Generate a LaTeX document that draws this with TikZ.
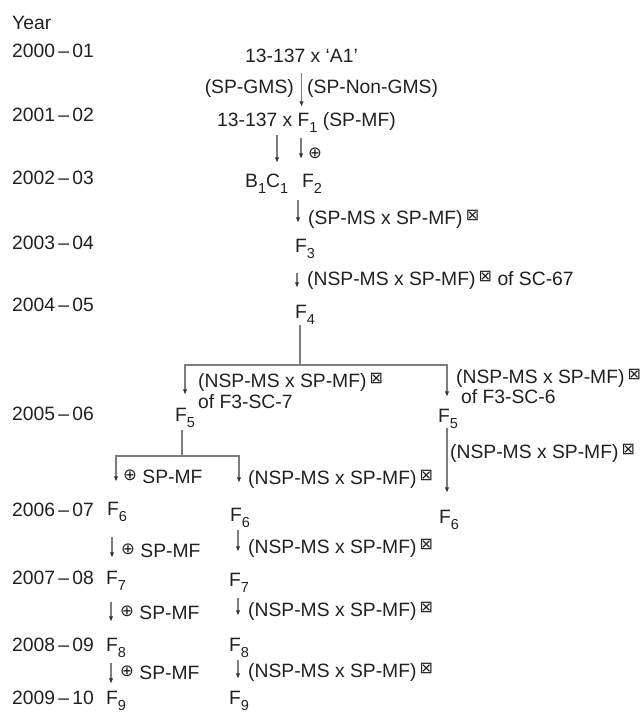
\documentclass[tikz,border=0pt]{standalone}
\usepackage{fontspec}
\setmainfont{Liberation Sans}
\newfontfamily\symbolfont{DejaVu Sans}
\usetikzlibrary{arrows.meta, positioning}
\definecolor{inkgray}{RGB}{35,31,32}
\definecolor{linegray}{RGB}{125,125,125}

\newcommand{\gsub}[1]{\raisebox{-6pt}{\fontsize{14.5}{14.5}\selectfont #1}}
\newcommand{\Fg}[1]{F\gsub{#1}}
\newcommand{\selfed}{\raisebox{3pt}{\symbolfont\fontsize{16.5}{16.5}\selectfont ⊕}}
\newcommand{\crossed}{\raisebox{4pt}{\symbolfont\fontsize{16}{16}\selectfont ⊠}}

\begin{document}
\begin{tikzpicture}[x=1pt, y=-1pt,
    every node/.style={font=\fontsize{19.3}{23}\selectfont, text=inkgray, inner sep=0pt},
    yearlbl/.style={anchor=base west},
    note/.style={anchor=base west},
    stage/.style={anchor=base west, text height=13pt, text depth=6pt},
    link/.style={draw=linegray, line width=1.1pt},
    arrow/.style={link, -{Latex[length=5.5pt, width=4.5pt, color=black!80]}}
]
\useasboundingbox (0,0) rectangle (644,713);

% Years
\node[yearlbl] (yr) at (12,29) {Year};
\node[yearlbl] (y00) at (12,57) {2000\,--\,01};
\node[yearlbl] (y01) at (12,121) {2001\,--\,02};
\node[yearlbl] (y02) at (12,184) {2002\,--\,03};
\node[yearlbl] (y03) at (12,249) {2003\,--\,04};
\node[yearlbl] (y04) at (12,311) {2004\,--\,05};
\node[yearlbl] (y05) at (12,420) {2005\,--\,06};
\node[yearlbl] (y06) at (12,516) {2006\,--\,07};
\node[yearlbl] (y07) at (12,584) {2007\,--\,08};
\node[yearlbl] (y08) at (12,651) {2008\,--\,09};
\node[yearlbl] (y09) at (12,704) {2009\,--\,10};

% First cross
\node[stage] (a1) at (245,62) {13-137 x ‘A1’};
\node[note, anchor=base east] (gms) at (294,93) {(SP-GMS)};
\node[note] (nongms) at (307,93) {(SP-Non-GMS)};
\node[stage] (cross1) at (217,126) {13-137 x \Fg{1} (SP-MF)};
\node (self2) at (315,153) {\symbolfont\fontsize{16.5}{16.5}\selectfont ⊕};

% F2 to F4
\node[stage] (bc1) at (245,187) {B\gsub{1}C\gsub{1}};
\node[stage] (f2) at (302,187) {\Fg{2}};
\node[note] (lbl23) at (308,224) {(SP-MS x SP-MF)\,\crossed};
\node[stage] (f3) at (295,252) {\Fg{3}};
\node[note] (lbl34) at (307,285) {(NSP-MS x SP-MF)\,\crossed\ of SC-67};
\node[stage] (f4) at (295,318) {\Fg{4}};
\coordinate (fork4) at (300,365);

% F5 lines
\node[note] (lbl45a) at (198,387) {(NSP-MS x SP-MF)\,\crossed};
\node[note] (lbl45b) at (198,408) {of F3-SC-7};
\node[note] (lbl45c) at (456,383) {(NSP-MS x SP-MF)\,\crossed};
\node[note] (lbl45d) at (461,403) {of F3-SC-6};
\node[stage] (f5l) at (175,421) {\Fg{5}};
\node[stage] (f5r) at (438,422) {\Fg{5}};
\coordinate (fork5) at (182,456);

% F6 to F9
\node[note] (lbl56a) at (123,483) {\selfed\ SP-MF};
\node[note] (lbl56b) at (248,484) {(NSP-MS x SP-MF)\,\crossed};
\node[note] (lbl56c) at (450,458) {(NSP-MS x SP-MF)\,\crossed};
\node[stage] (f6a) at (107,515) {\Fg{6}};
\node[stage] (f6b) at (230,521) {\Fg{6}};
\node[stage] (f6c) at (439,523) {\Fg{6}};
\node[note] (lbl67a) at (121,557) {\selfed\ SP-MF};
\node[note] (lbl67b) at (248,553) {(NSP-MS x SP-MF)\,\crossed};
\node[stage] (f7a) at (106,584) {\Fg{7}};
\node[stage] (f7b) at (229,586) {\Fg{7}};
\node[note] (lbl78a) at (120,619) {\selfed\ SP-MF};
\node[note] (lbl78b) at (248,616) {(NSP-MS x SP-MF)\,\crossed};
\node[stage] (f8a) at (106,651) {\Fg{8}};
\node[stage] (f8b) at (229,651) {\Fg{8}};
\node[note] (lbl89a) at (120,679) {\selfed\ SP-MF};
\node[note] (lbl89b) at (248,677) {(NSP-MS x SP-MF)\,\crossed};
\node[stage] (f9a) at (106,704) {\Fg{9}};
\node[stage] (f9b) at (229,704) {\Fg{9}};

% Arrows
\draw[arrow, shorten <=5pt, shorten >=6pt] (a1.south) -- (a1.south |- cross1.north);
\draw[arrow, shorten <=3pt, shorten >=11pt] ([xshift=32pt]bc1.north west |- cross1.south) -- ([xshift=32pt]bc1.north west);
\draw[arrow, shorten <=6pt, shorten >=15pt] ([xshift=-1pt]f2.north west |- cross1.south) -- ([xshift=-1pt]f2.north west);
\draw[arrow, shorten <=7pt, shorten >=16pt] ([xshift=3pt]f3.north west |- f2.south) -- ([xshift=3pt]f3.north west);
\draw[arrow, shorten <=15pt, shorten >=17pt] ([xshift=2pt]f3.south west) -- ([xshift=2pt]f4.north west);
\draw[link, shorten <=1pt] (f4.south -| fork4) -- (fork4);
\draw[arrow, shorten >=13pt] (fork4) -| ([xshift=10pt]f5l.north west);
\draw[arrow, shorten >=12pt] (fork4) -| ([xshift=9pt]f5r.north west);
\draw[link, shorten <=3pt] (f5l.south -| fork5) -- (fork5);
\draw[arrow, shorten >=20pt] (fork5) -| ([xshift=9pt]f6a.north west);
\draw[arrow, shorten >=25pt] (fork5) -| ([xshift=9pt]f6b.north west);
\draw[arrow, shorten >=17pt] ([xshift=9pt]f5r.south west) -- ([xshift=9pt]f5r.south west |- f6c.north);
\draw[arrow, shorten <=16pt, shorten >=13pt] ([xshift=5pt]f6a.south west) -- ([xshift=5pt]f6a.south west |- f7a.north);
\draw[arrow, shorten <=12pt, shorten >=16pt] ([xshift=5pt]f7a.south west) -- ([xshift=5pt]f8a.north west);
\draw[arrow, shorten <=6pt, shorten >=7pt] ([xshift=5pt]f8a.south west) -- ([xshift=5pt]f9a.north west);
\draw[arrow, shorten <=3pt, shorten >=21pt] ([xshift=8pt]f6b.south west) -- ([xshift=8pt]f6b.south west |- f7b.north);
\draw[arrow, shorten <=6pt, shorten >=22pt] ([xshift=9pt]f7b.south west) -- ([xshift=9pt]f8b.north west);
\draw[arrow, shorten <=3pt, shorten >=12pt] ([xshift=9pt]f8b.south west) -- ([xshift=9pt]f9b.north west);

\end{tikzpicture}
\end{document}
